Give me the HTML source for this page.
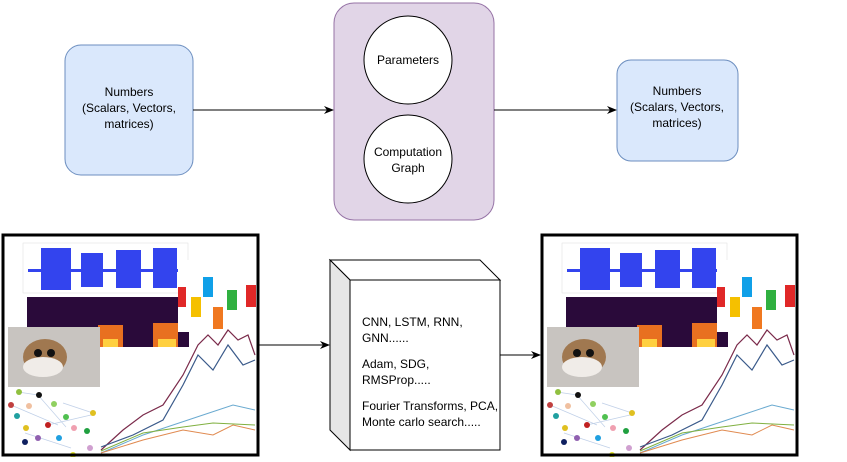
<!DOCTYPE html>
<html><head><style>
body{margin:0;background:#fff;width:847px;height:457px;overflow:hidden}
text{font-family:"Liberation Sans",Arial,sans-serif;font-size:12px;fill:#000}
</style></head><body>
<svg width="847" height="457" viewBox="0 0 847 457" xmlns="http://www.w3.org/2000/svg">
<defs>
<marker id="ah" markerWidth="10" markerHeight="8" refX="9" refY="4" orient="auto" markerUnits="userSpaceOnUse">
<path d="M0,0 L10,4 L0,8 L3,4 z" fill="#000"/></marker>
<g id="col">
<rect x="0" y="0" width="255" height="220" fill="#fff"/>
<!-- waveform -->
<rect x="20" y="8" width="165" height="50" fill="#fff" stroke="#ddd" stroke-width="0.5"/>
<rect x="38" y="13" width="30" height="42" fill="#3344ee"/>
<rect x="78" y="18" width="22" height="34" fill="#3344ee"/>
<rect x="113" y="15" width="25" height="38" fill="#3344ee"/>
<rect x="150" y="13" width="24" height="40" fill="#3344ee"/>
<rect x="25" y="34" width="155" height="3" fill="#3344ee"/>
<!-- spectrogram -->
<rect x="24" y="62" width="162" height="50" fill="#2a0a3a"/>
<rect x="95" y="90" width="25" height="22" fill="#e87020"/>
<rect x="150" y="88" width="25" height="24" fill="#e87020"/>
<rect x="100" y="104" width="15" height="8" fill="#ffd040"/>
<rect x="155" y="104" width="18" height="8" fill="#ffd040"/>
<!-- tags -->
<rect x="175" y="25" width="77" height="72" fill="#fff"/>
<rect x="175" y="52" width="8" height="20" fill="#e02828"/>
<rect x="188" y="62" width="10" height="20" fill="#f5c000"/>
<rect x="200" y="42" width="10" height="20" fill="#10a0e8"/>
<rect x="210" y="72" width="10" height="22" fill="#f07820"/>
<rect x="224" y="55" width="10" height="20" fill="#30b040"/>
<rect x="243" y="50" width="10" height="22" fill="#e02828"/>
<!-- chart -->
<polyline points="98,215 120,195 140,180 160,170 180,140 195,110 205,100 215,110 225,95 235,105 245,100 252,120" fill="none" stroke="#7a2a4a" stroke-width="1.2"/>
<polyline points="98,212 130,200 160,185 180,150 195,120 210,135 225,110 240,130 252,125" fill="none" stroke="#3a5a8a" stroke-width="1.2"/>
<polyline points="98,218 140,200 170,190 200,180 230,170 252,175" fill="none" stroke="#6aaad0" stroke-width="1"/>
<polyline points="98,218 140,205 180,195 210,200 230,190 252,195" fill="none" stroke="#e08a50" stroke-width="1"/>
<polyline points="98,216 140,198 180,192 210,188 252,190" fill="none" stroke="#80b040" stroke-width="1"/>
<!-- cat -->
<rect x="5" y="92" width="92" height="60" fill="#c8c4c0"/>
<ellipse cx="42" cy="122" rx="22" ry="18" fill="#a07850"/>
<ellipse cx="40" cy="132" rx="20" ry="10" fill="#f0ece8"/>
<circle cx="35" cy="118" r="4" fill="#111"/><circle cx="48" cy="118" r="4" fill="#111"/>
<!-- graph -->
<g stroke="#c0d0e8" stroke-width="0.7">
<line x1="15" y1="157" x2="35" y2="160"/><line x1="35" y1="160" x2="63" y2="192"/><line x1="8" y1="170" x2="55" y2="190"/><line x1="45" y1="190" x2="88" y2="180"/><line x1="22" y1="198" x2="68" y2="213"/><line x1="60" y1="168" x2="90" y2="178"/>
</g>
<circle cx="16" cy="157" r="3" fill="#90c040"/><circle cx="36" cy="160" r="3" fill="#111"/><circle cx="8" cy="170" r="3" fill="#c04040"/>
<circle cx="26" cy="171" r="3" fill="#f0c0a0"/><circle cx="51" cy="169" r="3" fill="#90d060"/><circle cx="14" cy="181" r="3" fill="#20a0a0"/>
<circle cx="63" cy="182" r="3" fill="#50c050"/><circle cx="90" cy="178" r="3" fill="#e0c020"/><circle cx="23" cy="193" r="3" fill="#e0c020"/>
<circle cx="45" cy="190" r="3" fill="#c02020"/><circle cx="71" cy="193" r="3" fill="#f0a0b0"/><circle cx="84" cy="196" r="3" fill="#20a040"/>
<circle cx="22" cy="207" r="3" fill="#102060"/><circle cx="56" cy="203" r="3" fill="#20a0e0"/><circle cx="35" cy="203" r="3" fill="#9060b0"/>
<circle cx="87" cy="213" r="3" fill="#d0a0d0"/><circle cx="70" cy="220" r="3" fill="#e0e020"/>
<rect x="0" y="0" width="255" height="220" fill="none" stroke="#000" stroke-width="3"/>
</g>
</defs>

<rect x="65" y="45" width="128" height="130" rx="16" fill="#dae8fc" stroke="#6c8ebf"/>
<text x="129" y="96" text-anchor="middle">Numbers</text>
<text x="129" y="112" text-anchor="middle">(Scalars, Vectors,</text>
<text x="129" y="128" text-anchor="middle">matrices)</text>

<rect x="334" y="3" width="160" height="217" rx="20" fill="#e1d5e7" stroke="#9673a6"/>
<circle cx="408" cy="60" r="44" fill="#fff" stroke="#000"/>
<text x="408" y="64" text-anchor="middle">Parameters</text>
<circle cx="408" cy="159" r="44" fill="#fff" stroke="#000"/>
<text x="408" y="156" text-anchor="middle">Computation</text>
<text x="408" y="172" text-anchor="middle">Graph</text>

<rect x="617" y="60" width="121" height="101" rx="14" fill="#dae8fc" stroke="#6c8ebf"/>
<text x="677" y="95" text-anchor="middle">Numbers</text>
<text x="677" y="111" text-anchor="middle">(Scalars, Vectors,</text>
<text x="677" y="127" text-anchor="middle">matrices)</text>

<line x1="193" y1="110" x2="333" y2="110" stroke="#000" marker-end="url(#ah)"/>
<line x1="494" y1="110" x2="616" y2="110" stroke="#000" marker-end="url(#ah)"/>

<use href="#col" x="3" y="235"/>
<use href="#col" x="542" y="235"/>

<line x1="258" y1="345" x2="329" y2="345" stroke="#000" marker-end="url(#ah)"/>
<line x1="500" y1="355" x2="540" y2="355" stroke="#000" marker-end="url(#ah)"/>

<path d="M330,260 L480,260 L500,280 L350,280 Z" fill="#fff" stroke="#000"/>
<path d="M330,260 L350,280 L350,450 L330,430 Z" fill="#e6e6e6" stroke="#000"/>
<rect x="350" y="280" width="150" height="170" fill="#fff" stroke="#000"/>
<text x="362" y="326">CNN, LSTM, RNN,</text>
<text x="362" y="342">GNN......</text>
<text x="362" y="368">Adam, SDG,</text>
<text x="362" y="384">RMSProp.....</text>
<text x="362" y="410">Fourier Transforms, PCA,</text>
<text x="362" y="426">Monte carlo search.....</text>
</svg>
</body></html>
